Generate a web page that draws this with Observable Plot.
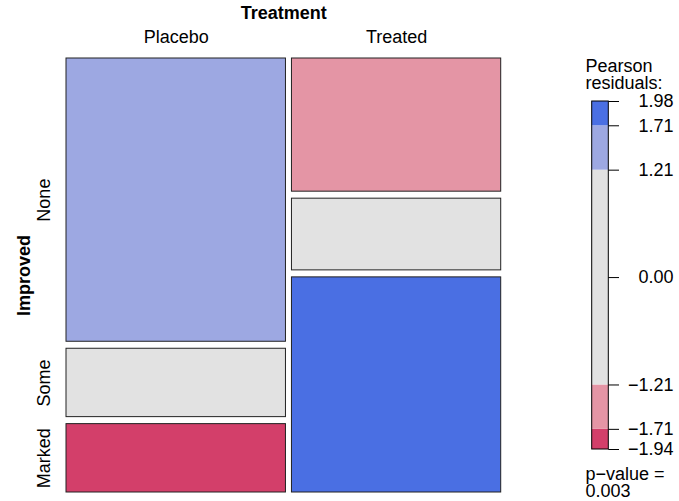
<!DOCTYPE html>
<html><head><meta charset="utf-8">
<script src="https://cdn.jsdelivr.net/npm/d3@7"></script>
<script src="https://cdn.jsdelivr.net/npm/@observablehq/plot@0.6"></script>
<style>
body{margin:0;background:#fff}
#wrap{position:relative;width:679px;height:501px}
#wrap svg{position:absolute;left:0;top:0}
</style>
</head><body><div id="wrap"></div>
<script>
// ---- data ----
const treatments = ["Placebo", "Treated"];
const improvedLevels = ["None", "Some", "Marked"];
const placeboCounts = [29, 7, 7];
const treatedCounts = [13, 7, 21];
const shadingBreaks = [1.21, 1.71];
const pValueText = "0.003";
const legendTitleLines = ["Pearson", "residuals:"];
const colTitle = "Treatment";
const rowTitle = "Improved";

// ---- palette ----
const palette = {posFull: "#4A6FE3", posLight: "#9DA8E2", neutral: "#E2E2E2", negLight: "#E495A5", negFull: "#D33F6A"};
const FONT = "'Liberation Sans', Arial, Helvetica, sans-serif";

// ---- derived (Pearson residuals, mosaic layout) ----
const counts = [placeboCounts, treatedCounts];
const N = d3.sum(counts.flat());
const colTot = counts.map(c => d3.sum(c));
const rowTot = improvedLevels.map((_, i) => d3.sum(counts, c => c[i]));
const shade = r => {
  const a = Math.abs(r);
  if (a < shadingBreaks[0]) return palette.neutral;
  if (a < shadingBreaks[1]) return r > 0 ? palette.posLight : palette.negLight;
  return r > 0 ? palette.posFull : palette.negFull;
};
const gapX = 6 / 434.7, gapY = 7 / 434;
const cells = [], colLabels = [], rowLabels = [];
let xCursor = 0;
const residuals = [];
treatments.forEach((t, j) => {
  const w = colTot[j] / N * (1 - gapX * (treatments.length - 1));
  let yCursor = 0;
  improvedLevels.forEach((lev, i) => {
    const o = counts[j][i];
    const e = colTot[j] * rowTot[i] / N;
    const r = (o - e) / Math.sqrt(e);
    residuals.push(r);
    const h = o / colTot[j] * (1 - gapY * (improvedLevels.length - 1));
    cells.push({x1: xCursor, x2: xCursor + w, y1: yCursor, y2: yCursor + h, fill: shade(r)});
    if (j === 0) rowLabels.push({name: lev, yc: yCursor + h / 2});
    yCursor += h + gapY;
  });
  colLabels.push({name: t, xc: xCursor + w / 2});
  xCursor += w + gapX;
});
const rMax = d3.max(residuals), rMin = d3.min(residuals);
const legendBands = [
  {lo: rMin, hi: -shadingBreaks[1], fill: palette.negFull},
  {lo: -shadingBreaks[1], hi: -shadingBreaks[0], fill: palette.negLight},
  {lo: -shadingBreaks[0], hi: shadingBreaks[0], fill: palette.neutral},
  {lo: shadingBreaks[0], hi: shadingBreaks[1], fill: palette.posLight},
  {lo: shadingBreaks[1], hi: rMax, fill: palette.posFull}
];
const legendTicks = [rMax, shadingBreaks[1], shadingBreaks[0], 0, -shadingBreaks[0], -shadingBreaks[1], rMin];
const fmt = d3.format(".2f");

const T = {fontSize: 18, fill: "black", lineAnchor: "middle"};

// ---- main mosaic ----
const main = Plot.plot({
  width: 679, height: 501,
  marginLeft: 66, marginRight: 178.3, marginTop: 58, marginBottom: 9,
  x: {domain: [0, 1], axis: null},
  y: {domain: [0, 1], reverse: true, axis: null},
  color: {type: "identity"},
  style: {fontFamily: FONT, background: "white", overflow: "visible"},
  marks: [
    Plot.rect(cells, {x1: "x1", x2: "x2", y1: "y1", y2: "y2", fill: "fill", stroke: "#222", strokeWidth: 1}),
    Plot.text([colTitle], {...T, text: d => d, frameAnchor: "top", textAnchor: "middle", dy: -44.8, fontWeight: "bold"}),
    Plot.text(colLabels, {...T, x: "xc", text: "name", frameAnchor: "top", textAnchor: "middle", dy: -21.1}),
    Plot.text([rowTitle], {...T, text: d => d, frameAnchor: "left", textAnchor: "middle", rotate: -90, dx: -42.3, fontWeight: "bold"}),
    Plot.text(rowLabels, {...T, y: "yc", text: "name", frameAnchor: "left", textAnchor: "middle", rotate: -90, dx: -22})
  ]
});

// ---- legend (overlay) ----
const legend = Plot.plot({
  width: 679, height: 501,
  marginLeft: 608.3, marginRight: 60, marginTop: 101, marginBottom: 52,
  x: {domain: [0, 1], range: [591.7, 608.3], axis: null},
  y: {domain: [rMin, rMax], axis: null},
  color: {type: "identity"},
  style: {fontFamily: FONT, background: "transparent", overflow: "visible"},
  marks: [
    Plot.rect(legendBands, {x1: 0, x2: 1, y1: "lo", y2: "hi", fill: "fill"}),
    Plot.rect([0], {x1: 0, x2: 1, y1: rMin, y2: rMax, fill: "none", stroke: "black", strokeWidth: 1}),
    Plot.tickY(legendTicks, {y: d => d, stroke: "black", strokeWidth: 1}),
    Plot.text(legendTicks, {...T, y: d => d, text: d => fmt(d), frameAnchor: "right", textAnchor: "end", dx: 54}),
    Plot.text([legendTitleLines[0]], {...T, text: d => d, frameAnchor: "top-left", textAnchor: "start", dx: -23.3, dy: -35.2}),
    Plot.text([legendTitleLines[1]], {...T, text: d => d, frameAnchor: "top-left", textAnchor: "start", dx: -23.3, dy: -18.5}),
    Plot.text(["p\u2212value ="], {...T, text: d => d, frameAnchor: "bottom-left", textAnchor: "start", dx: -23.3, dy: 24.7}),
    Plot.text([pValueText], {...T, text: d => d, frameAnchor: "bottom-left", textAnchor: "start", dx: -23.3, dy: 41.9})
  ]
});

const wrap = document.getElementById("wrap");
wrap.appendChild(main);
wrap.appendChild(legend);
</script>
</body></html>
